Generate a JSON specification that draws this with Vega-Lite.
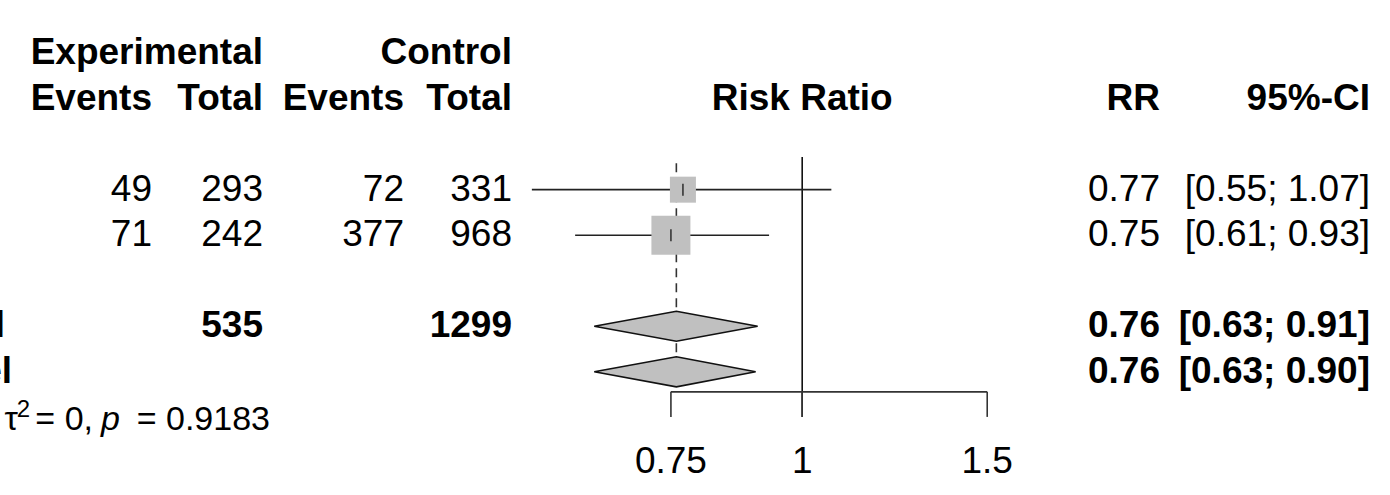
{
  "$schema": "https://vega.github.io/schema/vega-lite/v6.json",
  "width": 1390,
  "height": 495,
  "padding": 0,
  "autosize": {"type": "none"},
  "background": "white",
  "config": {
    "view": {"stroke": null},
    "text": {"font": "Liberation Sans", "fontSize": 37, "color": "black", "baseline": "middle"}
  },
  "datasets": {
    "table": [
      {"row": 1, "col": 7, "text": "Experimental", "section": "header"},
      {"row": 1, "col": 10, "text": "Control", "section": "header"},
      {"row": 2, "col": 6, "text": "Events", "section": "header"},
      {"row": 2, "col": 7, "text": "Total", "section": "header"},
      {"row": 2, "col": 9, "text": "Events", "section": "header"},
      {"row": 2, "col": 10, "text": "Total", "section": "header"},
      {"row": 2, "col": 11, "text": "RR", "section": "header"},
      {"row": 2, "col": 12, "text": "95%-CI", "section": "header"},
      {"row": 4, "col": 6, "text": "49", "section": "study"},
      {"row": 4, "col": 7, "text": "293", "section": "study"},
      {"row": 4, "col": 9, "text": "72", "section": "study"},
      {"row": 4, "col": 10, "text": "331", "section": "study"},
      {"row": 4, "col": 11, "text": "0.77", "section": "study"},
      {"row": 4, "col": 12, "text": "[0.55; 1.07]", "section": "study"},
      {"row": 5, "col": 6, "text": "71", "section": "study"},
      {"row": 5, "col": 7, "text": "242", "section": "study"},
      {"row": 5, "col": 9, "text": "377", "section": "study"},
      {"row": 5, "col": 10, "text": "968", "section": "study"},
      {"row": 5, "col": 11, "text": "0.75", "section": "study"},
      {"row": 5, "col": 12, "text": "[0.61; 0.93]", "section": "study"},
      {"row": 7, "col": 0, "text": "Common effect model", "section": "pooled"},
      {"row": 7, "col": 7, "text": "535", "section": "pooled"},
      {"row": 7, "col": 10, "text": "1299", "section": "pooled"},
      {"row": 7, "col": 11, "text": "0.76", "section": "pooled"},
      {"row": 7, "col": 12, "text": "[0.63; 0.91]", "section": "pooled"},
      {"row": 8, "col": 1, "text": "Random effects model", "section": "pooled"},
      {"row": 8, "col": 11, "text": "0.76", "section": "pooled"},
      {"row": 8, "col": 12, "text": "[0.63; 0.90]", "section": "pooled"},
      {"row": 9, "col": 2, "text": "Heterogeneity: I² = 0%, τ", "section": "note"},
      {"row": 9, "col": 3, "text": "2", "section": "note_sup"},
      {"row": 9, "col": 4, "text": "= 0,", "section": "note"},
      {"row": 9, "col": 5, "text": "p", "section": "note_italic"},
      {"row": 9, "col": 8, "text": "= 0.9183", "section": "note"}
    ],
    "studies": [
      {"row": 4, "rr": 0.77, "lower": 0.553, "upper": 1.066, "weight": 30.8},
      {"row": 5, "rr": 0.75, "lower": 0.608, "upper": 0.93, "weight": 69.2}
    ],
    "diamonds": [
      {"model": "common", "rr": 0.634, "top": 7, "bottom": 7},
      {"model": "common", "rr": 0.759, "top": 6.67, "bottom": 7.33},
      {"model": "common", "rr": 0.907, "top": 7, "bottom": 7},
      {"model": "random", "rr": 0.634, "top": 8, "bottom": 8},
      {"model": "random", "rr": 0.759, "top": 7.67, "bottom": 8.33},
      {"model": "random", "rr": 0.903, "top": 8, "bottom": 8}
    ],
    "ticks": [{"rr": 0.75}, {"rr": 1}, {"rr": 1.5}],
    "header": [{"rr": 1, "row": 2, "text": "Risk Ratio"}]
  },
  "resolve": {"scale": {"x": "independent"}},
  "layer": [
    {
      "layer": [
        {
          "transform": [{"filter": "datum.section === 'study'"}],
          "mark": {"type": "text", "align": "right"}
        },
        {
          "transform": [{"filter": "datum.section === 'note'"}],
          "mark": {"type": "text", "align": "right", "dy": 3, "fontSize": 34}
        },
        {
          "transform": [{"filter": "datum.section === 'note_italic'"}],
          "mark": {"type": "text", "align": "right", "dy": 3, "fontSize": 34, "fontStyle": "italic"}
        },
        {
          "transform": [{"filter": "datum.section === 'note_sup'"}],
          "mark": {"type": "text", "align": "right", "dy": -7, "fontSize": 24}
        },
        {
          "transform": [{"filter": "datum.section === 'header' || datum.section === 'pooled'"}],
          "mark": {"type": "text", "align": "right", "fontWeight": "bold"}
        }
      ],
      "data": {"name": "table"},
      "encoding": {
        "x": {"field": "col", "type": "quantitative", "axis": null,
              "scale": {"domain": [0, 1, 2, 3, 4, 5, 6, 7, 8, 9, 10, 11, 12], "range": [5, 12, 18, 30, 93, 120, 152, 263, 270, 404, 512, 1160, 1370], "zero": false, "nice": false}},
        "y": {"field": "row", "type": "quantitative", "axis": null,
              "scale": {"domain": [-0.165, 10.705], "reverse": true, "nice": false, "zero": false}},
        "text": {"field": "text", "type": "nominal"}
      }
    },
    {
      "layer": [
        {
          "data": {"values": [{}]},
          "mark": {"type": "rule", "color": "#333333", "strokeWidth": 1.6, "strokeDash": [9, 6]},
          "encoding": {
            "x": {"datum": 0.759, "type": "quantitative", "axis": null,
                  "scale": {"type": "log", "domain": [0.1724, 3.626], "nice": false, "zero": false}},
            "y": {"datum": 3.42, "type": "quantitative", "axis": null,
                  "scale": {"domain": [-0.165, 10.705], "reverse": true, "nice": false, "zero": false}},
            "y2": {"datum": 8.3}
          }
        },
        {
          "data": {"values": [{}]},
          "mark": {"type": "rule", "color": "#111111", "strokeWidth": 1.6},
          "encoding": {
            "x": {"datum": 1, "type": "quantitative"},
            "y": {"datum": 3.28, "type": "quantitative"},
            "y2": {"datum": 8.99}
          }
        },
        {
          "data": {"name": "studies"},
          "mark": {"type": "rule", "color": "#222222", "strokeWidth": 1.6},
          "encoding": {
            "x": {"field": "lower", "type": "quantitative"},
            "x2": {"field": "upper"},
            "y": {"field": "row", "type": "quantitative"}
          }
        },
        {
          "data": {"name": "studies"},
          "mark": {"type": "point", "shape": "square", "filled": true, "color": "#c0c0c0", "opacity": 1},
          "encoding": {
            "x": {"field": "rr", "type": "quantitative"},
            "y": {"field": "row", "type": "quantitative"},
            "size": {"field": "weight", "type": "quantitative", "legend": null,
                     "scale": {"domain": [0, 100], "range": [0, 2197], "zero": true}}
          }
        },
        {
          "data": {"name": "studies"},
          "mark": {"type": "tick", "orient": "vertical", "color": "#111111", "size": 12, "thickness": 1.8},
          "encoding": {
            "x": {"field": "rr", "type": "quantitative"},
            "y": {"field": "row", "type": "quantitative"}
          }
        },
        {
          "data": {"name": "diamonds"},
          "mark": {"type": "area", "orient": "vertical", "fill": "#c0c0c0", "stroke": "#111111", "strokeWidth": 1.6, "fillOpacity": 1},
          "encoding": {
            "x": {"field": "rr", "type": "quantitative"},
            "y": {"field": "top", "type": "quantitative"},
            "y2": {"field": "bottom"},
            "detail": {"field": "model", "type": "nominal"}
          }
        },
        {
          "data": {"values": [{}]},
          "mark": {"type": "rule", "color": "#333333", "strokeWidth": 1.6},
          "encoding": {
            "x": {"datum": 0.75, "type": "quantitative"},
            "x2": {"datum": 1.5},
            "y": {"datum": 8.44, "type": "quantitative"}
          }
        },
        {
          "data": {"name": "ticks"},
          "mark": {"type": "rule", "color": "#333333", "strokeWidth": 1.6},
          "encoding": {
            "x": {"field": "rr", "type": "quantitative"},
            "y": {"datum": 8.44, "type": "quantitative"},
            "y2": {"datum": 8.99}
          }
        },
        {
          "data": {"name": "ticks"},
          "mark": {"type": "text", "align": "center"},
          "encoding": {
            "x": {"field": "rr", "type": "quantitative"},
            "y": {"datum": 9.98, "type": "quantitative"},
            "text": {"field": "rr", "type": "quantitative"}
          }
        },
        {
          "data": {"name": "header"},
          "mark": {"type": "text", "align": "center", "fontWeight": "bold"},
          "encoding": {
            "x": {"field": "rr", "type": "quantitative"},
            "y": {"field": "row", "type": "quantitative"},
            "text": {"field": "text", "type": "nominal"}
          }
        }
      ]
    }
  ]
}
